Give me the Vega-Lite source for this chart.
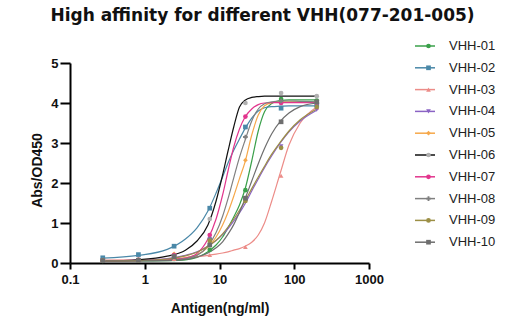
{
 "$schema": "https://vega.github.io/schema/vega-lite/v6.json",
 "width": 299, "height": 200,
 "autosize": {"type": "none"},
 "padding": {"left": 70, "top": 63, "right": 157, "bottom": 62},
 "background": "white",
 "config": {"view": {"stroke": null}},
 "title": {"text": "High affinity for different VHH(077-201-005)", "font": "DejaVu Sans", "fontSize": 17, "fontWeight": "bold", "color": "#111111", "anchor": "middle", "dx": 43, "offset": 10},
 "datasets": {
  "curve": [
   {"series":"VHH-01","conc":0.274,"od":0.05},{"series":"VHH-01","conc":0.823,"od":0.05},{"series":"VHH-01","conc":2,"od":0.06},{"series":"VHH-01","conc":3.5,"od":0.08},{"series":"VHH-01","conc":5,"od":0.14},{"series":"VHH-01","conc":7,"od":0.28},{"series":"VHH-01","conc":9,"od":0.45},{"series":"VHH-01","conc":11,"od":0.65},{"series":"VHH-01","conc":13,"od":0.88},{"series":"VHH-01","conc":15.5,"od":1.15},{"series":"VHH-01","conc":18.5,"od":1.45},{"series":"VHH-01","conc":22,"od":1.85},{"series":"VHH-01","conc":27,"od":2.55},{"series":"VHH-01","conc":33,"od":3.3},{"series":"VHH-01","conc":40,"od":3.78},{"series":"VHH-01","conc":50,"od":3.99},{"series":"VHH-01","conc":65,"od":4.06},{"series":"VHH-01","conc":85,"od":4.08},{"series":"VHH-01","conc":120,"od":4.08},{"series":"VHH-01","conc":200,"od":4.08},
   {"series":"VHH-02","conc":0.274,"od":0.12},{"series":"VHH-02","conc":0.823,"od":0.19},{"series":"VHH-02","conc":2,"od":0.34},{"series":"VHH-02","conc":3.5,"od":0.6},{"series":"VHH-02","conc":5,"od":0.88},{"series":"VHH-02","conc":7,"od":1.3},{"series":"VHH-02","conc":9,"od":1.75},{"series":"VHH-02","conc":11,"od":2.15},{"series":"VHH-02","conc":13,"od":2.5},{"series":"VHH-02","conc":15.5,"od":2.82},{"series":"VHH-02","conc":18.5,"od":3.1},{"series":"VHH-02","conc":22,"od":3.36},{"series":"VHH-02","conc":27,"od":3.62},{"series":"VHH-02","conc":33,"od":3.8},{"series":"VHH-02","conc":40,"od":3.88},{"series":"VHH-02","conc":50,"od":3.91},{"series":"VHH-02","conc":65,"od":3.92},{"series":"VHH-02","conc":85,"od":3.93},{"series":"VHH-02","conc":120,"od":3.93},{"series":"VHH-02","conc":200,"od":3.93},
   {"series":"VHH-03","conc":0.274,"od":0.07},{"series":"VHH-03","conc":0.823,"od":0.08},{"series":"VHH-03","conc":2,"od":0.1},{"series":"VHH-03","conc":3.5,"od":0.13},{"series":"VHH-03","conc":5,"od":0.16},{"series":"VHH-03","conc":7,"od":0.19},{"series":"VHH-03","conc":9,"od":0.22},{"series":"VHH-03","conc":11,"od":0.25},{"series":"VHH-03","conc":13,"od":0.28},{"series":"VHH-03","conc":15.5,"od":0.32},{"series":"VHH-03","conc":18.5,"od":0.36},{"series":"VHH-03","conc":22,"od":0.42},{"series":"VHH-03","conc":27,"od":0.52},{"series":"VHH-03","conc":33,"od":0.7},{"series":"VHH-03","conc":40,"od":1.0},{"series":"VHH-03","conc":50,"od":1.55},{"series":"VHH-03","conc":65,"od":2.25},{"series":"VHH-03","conc":85,"od":2.95},{"series":"VHH-03","conc":120,"od":3.5},{"series":"VHH-03","conc":200,"od":3.9},
   {"series":"VHH-04","conc":0.274,"od":0.05},{"series":"VHH-04","conc":0.823,"od":0.07},{"series":"VHH-04","conc":2,"od":0.11},{"series":"VHH-04","conc":3.5,"od":0.19},{"series":"VHH-04","conc":5,"od":0.28},{"series":"VHH-04","conc":7,"od":0.42},{"series":"VHH-04","conc":9,"od":0.56},{"series":"VHH-04","conc":11,"od":0.71},{"series":"VHH-04","conc":13,"od":0.86},{"series":"VHH-04","conc":15.5,"od":1.05},{"series":"VHH-04","conc":18.5,"od":1.25},{"series":"VHH-04","conc":22,"od":1.48},{"series":"VHH-04","conc":27,"od":1.8},{"series":"VHH-04","conc":33,"od":2.1},{"series":"VHH-04","conc":40,"od":2.38},{"series":"VHH-04","conc":50,"od":2.68},{"series":"VHH-04","conc":65,"od":3.0},{"series":"VHH-04","conc":85,"od":3.28},{"series":"VHH-04","conc":120,"od":3.55},{"series":"VHH-04","conc":200,"od":3.82},
   {"series":"VHH-05","conc":0.274,"od":0.05},{"series":"VHH-05","conc":0.823,"od":0.06},{"series":"VHH-05","conc":2,"od":0.08},{"series":"VHH-05","conc":3.5,"od":0.13},{"series":"VHH-05","conc":5,"od":0.21},{"series":"VHH-05","conc":7,"od":0.39},{"series":"VHH-05","conc":9,"od":0.65},{"series":"VHH-05","conc":11,"od":0.95},{"series":"VHH-05","conc":13,"od":1.27},{"series":"VHH-05","conc":15.5,"od":1.67},{"series":"VHH-05","conc":18.5,"od":2.11},{"series":"VHH-05","conc":22,"od":2.53},{"series":"VHH-05","conc":27,"od":3.2},{"series":"VHH-05","conc":33,"od":3.7},{"series":"VHH-05","conc":40,"od":3.93},{"series":"VHH-05","conc":50,"od":4.01},{"series":"VHH-05","conc":65,"od":4.03},{"series":"VHH-05","conc":85,"od":4.03},{"series":"VHH-05","conc":120,"od":4.03},{"series":"VHH-05","conc":200,"od":4.03},
   {"series":"VHH-06","conc":0.274,"od":0.05},{"series":"VHH-06","conc":0.823,"od":0.08},{"series":"VHH-06","conc":2,"od":0.17},{"series":"VHH-06","conc":3.5,"od":0.32},{"series":"VHH-06","conc":5,"od":0.55},{"series":"VHH-06","conc":7,"od":0.95},{"series":"VHH-06","conc":9,"od":1.55},{"series":"VHH-06","conc":11,"od":2.2},{"series":"VHH-06","conc":13,"od":2.8},{"series":"VHH-06","conc":15.5,"od":3.4},{"series":"VHH-06","conc":18.5,"od":3.9},{"series":"VHH-06","conc":22,"od":4.07},{"series":"VHH-06","conc":27,"od":4.14},{"series":"VHH-06","conc":33,"od":4.16},{"series":"VHH-06","conc":40,"od":4.17},{"series":"VHH-06","conc":50,"od":4.17},{"series":"VHH-06","conc":65,"od":4.17},{"series":"VHH-06","conc":85,"od":4.17},{"series":"VHH-06","conc":120,"od":4.17},{"series":"VHH-06","conc":200,"od":4.17},
   {"series":"VHH-07","conc":0.274,"od":0.05},{"series":"VHH-07","conc":0.823,"od":0.06},{"series":"VHH-07","conc":2,"od":0.08},{"series":"VHH-07","conc":3.5,"od":0.12},{"series":"VHH-07","conc":5,"od":0.24},{"series":"VHH-07","conc":7,"od":0.6},{"series":"VHH-07","conc":9,"od":1.1},{"series":"VHH-07","conc":11,"od":1.7},{"series":"VHH-07","conc":13,"od":2.3},{"series":"VHH-07","conc":15.5,"od":2.9},{"series":"VHH-07","conc":18.5,"od":3.35},{"series":"VHH-07","conc":22,"od":3.65},{"series":"VHH-07","conc":27,"od":3.85},{"series":"VHH-07","conc":33,"od":3.96},{"series":"VHH-07","conc":40,"od":4.0},{"series":"VHH-07","conc":50,"od":4.01},{"series":"VHH-07","conc":65,"od":4.01},{"series":"VHH-07","conc":85,"od":4.01},{"series":"VHH-07","conc":120,"od":4.01},{"series":"VHH-07","conc":200,"od":4.01},
   {"series":"VHH-08","conc":0.274,"od":0.05},{"series":"VHH-08","conc":0.823,"od":0.06},{"series":"VHH-08","conc":2,"od":0.07},{"series":"VHH-08","conc":3.5,"od":0.11},{"series":"VHH-08","conc":5,"od":0.19},{"series":"VHH-08","conc":7,"od":0.42},{"series":"VHH-08","conc":9,"od":0.76},{"series":"VHH-08","conc":11,"od":1.17},{"series":"VHH-08","conc":13,"od":1.61},{"series":"VHH-08","conc":15.5,"od":2.13},{"series":"VHH-08","conc":18.5,"od":2.64},{"series":"VHH-08","conc":22,"od":3.07},{"series":"VHH-08","conc":27,"od":3.55},{"series":"VHH-08","conc":33,"od":3.85},{"series":"VHH-08","conc":40,"od":3.98},{"series":"VHH-08","conc":50,"od":4.03},{"series":"VHH-08","conc":65,"od":4.05},{"series":"VHH-08","conc":85,"od":4.05},{"series":"VHH-08","conc":120,"od":4.04},{"series":"VHH-08","conc":200,"od":4.03},
   {"series":"VHH-09","conc":0.274,"od":0.05},{"series":"VHH-09","conc":0.823,"od":0.06},{"series":"VHH-09","conc":2,"od":0.1},{"series":"VHH-09","conc":3.5,"od":0.18},{"series":"VHH-09","conc":5,"od":0.27},{"series":"VHH-09","conc":7,"od":0.42},{"series":"VHH-09","conc":9,"od":0.57},{"series":"VHH-09","conc":11,"od":0.73},{"series":"VHH-09","conc":13,"od":0.9},{"series":"VHH-09","conc":15.5,"od":1.1},{"series":"VHH-09","conc":18.5,"od":1.32},{"series":"VHH-09","conc":22,"od":1.55},{"series":"VHH-09","conc":27,"od":1.86},{"series":"VHH-09","conc":33,"od":2.15},{"series":"VHH-09","conc":40,"od":2.42},{"series":"VHH-09","conc":50,"od":2.72},{"series":"VHH-09","conc":65,"od":3.02},{"series":"VHH-09","conc":85,"od":3.3},{"series":"VHH-09","conc":120,"od":3.58},{"series":"VHH-09","conc":200,"od":3.85},
   {"series":"VHH-10","conc":0.274,"od":0.05},{"series":"VHH-10","conc":0.823,"od":0.05},{"series":"VHH-10","conc":2,"od":0.06},{"series":"VHH-10","conc":3.5,"od":0.09},{"series":"VHH-10","conc":5,"od":0.15},{"series":"VHH-10","conc":7,"od":0.25},{"series":"VHH-10","conc":9,"od":0.38},{"series":"VHH-10","conc":11,"od":0.53},{"series":"VHH-10","conc":13,"od":0.72},{"series":"VHH-10","conc":15.5,"od":0.96},{"series":"VHH-10","conc":18.5,"od":1.27},{"series":"VHH-10","conc":22,"od":1.61},{"series":"VHH-10","conc":27,"od":2.05},{"series":"VHH-10","conc":33,"od":2.48},{"series":"VHH-10","conc":40,"od":2.86},{"series":"VHH-10","conc":50,"od":3.23},{"series":"VHH-10","conc":65,"od":3.54},{"series":"VHH-10","conc":85,"od":3.75},{"series":"VHH-10","conc":120,"od":3.91},{"series":"VHH-10","conc":200,"od":4.0}
  ],
  "pts": [
   {"antibody":"VHH-01","conc":0.2743,"od":0.05},{"antibody":"VHH-01","conc":0.823,"od":0.07},{"antibody":"VHH-01","conc":2.469,"od":0.1},{"antibody":"VHH-01","conc":7.407,"od":0.33},{"antibody":"VHH-01","conc":22.22,"od":1.82},{"antibody":"VHH-01","conc":66.67,"od":4.1},{"antibody":"VHH-01","conc":200,"od":4.06},
   {"antibody":"VHH-02","conc":0.2743,"od":0.13},{"antibody":"VHH-02","conc":0.823,"od":0.21},{"antibody":"VHH-02","conc":2.469,"od":0.42},{"antibody":"VHH-02","conc":7.407,"od":1.37},{"antibody":"VHH-02","conc":22.22,"od":3.4},{"antibody":"VHH-02","conc":66.67,"od":3.87},{"antibody":"VHH-02","conc":200,"od":3.95},
   {"antibody":"VHH-03","conc":0.2743,"od":0.07},{"antibody":"VHH-03","conc":0.823,"od":0.08},{"antibody":"VHH-03","conc":2.469,"od":0.1},{"antibody":"VHH-03","conc":7.407,"od":0.2},{"antibody":"VHH-03","conc":22.22,"od":0.4},{"antibody":"VHH-03","conc":66.67,"od":2.18},{"antibody":"VHH-03","conc":200,"od":3.88},
   {"antibody":"VHH-04","conc":0.2743,"od":0.06},{"antibody":"VHH-04","conc":0.823,"od":0.07},{"antibody":"VHH-04","conc":2.469,"od":0.13},{"antibody":"VHH-04","conc":7.407,"od":0.6},{"antibody":"VHH-04","conc":22.22,"od":1.58},{"antibody":"VHH-04","conc":66.67,"od":2.92},{"antibody":"VHH-04","conc":200,"od":3.83},
   {"antibody":"VHH-05","conc":0.2743,"od":0.06},{"antibody":"VHH-05","conc":0.823,"od":0.08},{"antibody":"VHH-05","conc":2.469,"od":0.23},{"antibody":"VHH-05","conc":7.407,"od":0.55},{"antibody":"VHH-05","conc":22.22,"od":2.57},{"antibody":"VHH-05","conc":66.67,"od":4.0},{"antibody":"VHH-05","conc":200,"od":4.03},
   {"antibody":"VHH-06","conc":0.2743,"od":0.07},{"antibody":"VHH-06","conc":0.823,"od":0.08},{"antibody":"VHH-06","conc":2.469,"od":0.18},{"antibody":"VHH-06","conc":7.407,"od":1.1},{"antibody":"VHH-06","conc":22.22,"od":4.0},{"antibody":"VHH-06","conc":66.67,"od":4.25},{"antibody":"VHH-06","conc":200,"od":4.17},
   {"antibody":"VHH-07","conc":0.2743,"od":0.06},{"antibody":"VHH-07","conc":0.823,"od":0.08},{"antibody":"VHH-07","conc":2.469,"od":0.2},{"antibody":"VHH-07","conc":7.407,"od":0.7},{"antibody":"VHH-07","conc":22.22,"od":3.66},{"antibody":"VHH-07","conc":66.67,"od":4.0},{"antibody":"VHH-07","conc":200,"od":4.0},
   {"antibody":"VHH-08","conc":0.2743,"od":0.06},{"antibody":"VHH-08","conc":0.823,"od":0.07},{"antibody":"VHH-08","conc":2.469,"od":0.18},{"antibody":"VHH-08","conc":7.407,"od":0.6},{"antibody":"VHH-08","conc":22.22,"od":3.15},{"antibody":"VHH-08","conc":66.67,"od":4.05},{"antibody":"VHH-08","conc":200,"od":4.0},
   {"antibody":"VHH-09","conc":0.2743,"od":0.06},{"antibody":"VHH-09","conc":0.823,"od":0.07},{"antibody":"VHH-09","conc":2.469,"od":0.15},{"antibody":"VHH-09","conc":7.407,"od":0.55},{"antibody":"VHH-09","conc":22.22,"od":1.55},{"antibody":"VHH-09","conc":66.67,"od":2.88},{"antibody":"VHH-09","conc":200,"od":3.9},
   {"antibody":"VHH-10","conc":0.2743,"od":0.06},{"antibody":"VHH-10","conc":0.823,"od":0.07},{"antibody":"VHH-10","conc":2.469,"od":0.16},{"antibody":"VHH-10","conc":7.407,"od":0.45},{"antibody":"VHH-10","conc":22.22,"od":1.62},{"antibody":"VHH-10","conc":66.67,"od":3.53},{"antibody":"VHH-10","conc":200,"od":4.03}
  ]
 },
 "layer": [
  {
   "data": {"name": "curve"},
   "mark": {"type": "line", "interpolate": "monotone", "strokeWidth": 1.2},
   "encoding": {
    "x": {"field": "conc", "type": "quantitative", "scale": {"type": "log", "domain": [0.1, 1000]},
     "axis": {"values": [0.1, 1, 10, 100, 1000], "format": "~g", "title": "Antigen(ng/ml)", "grid": false, "labelOverlap": false, "domainColor": "#000000", "domainWidth": 2, "tickColor": "#000000", "tickWidth": 2, "tickSize": 6, "labelFont": "Liberation Sans", "labelFontSize": 13, "labelFontWeight": "bold", "labelColor": "#111111", "labelPadding": 4, "labelFlush": false, "titleFont": "Liberation Sans", "titleFontSize": 14, "titleFontWeight": "bold", "titleColor": "#111111", "titlePadding": 15}},
    "y": {"field": "od", "type": "quantitative", "scale": {"domain": [0, 5], "nice": false},
     "axis": {"values": [0, 1, 2, 3, 4, 5], "format": "d", "title": "Abs/OD450", "grid": false, "labelOverlap": false, "domainColor": "#000000", "domainWidth": 2, "tickColor": "#000000", "tickWidth": 2, "tickSize": 10, "labelFont": "Liberation Sans", "labelFontSize": 13, "labelFontWeight": "bold", "labelColor": "#111111", "labelPadding": 2, "titleFont": "Liberation Sans", "titleFontSize": 14, "titleFontWeight": "bold", "titleColor": "#111111", "titlePadding": 6, "titleY": 107}}
    ,
    "stroke": {"field": "series", "type": "nominal",
     "scale": {"domain": ["VHH-01","VHH-02","VHH-03","VHH-04","VHH-05","VHH-06","VHH-07","VHH-08","VHH-09","VHH-10"], "range": ["#3aa04a","#4a88a8","#ec8c88","#8a63c4","#f6a84a","#111111","#e2358d","#808080","#9c8f45","#6e6e6e"]},
     "legend": {"orient": "none", "legendX": 344, "legendY": -28, "title": null, "symbolType": "stroke", "symbolSize": 400, "symbolStrokeWidth": 1.5, "labelFont": "Liberation Sans", "labelFontSize": 13, "labelColor": "#222222", "labelOffset": 13, "rowPadding": 3.8, "padding": 0}}
   }
  },
  {
   "data": {"name": "pts"},
   "mark": {"type": "point", "filled": true, "opacity": 1, "size": 22},
   "encoding": {
    "x": {"field": "conc", "type": "quantitative",
     "axis": {"values": [0.1, 1, 10, 100, 1000], "format": "~g", "title": "Antigen(ng/ml)", "grid": false, "labelOverlap": false, "domainColor": "#000000", "domainWidth": 2, "tickColor": "#000000", "tickWidth": 2, "tickSize": 6, "labelFont": "Liberation Sans", "labelFontSize": 13, "labelFontWeight": "bold", "labelColor": "#111111", "labelPadding": 4, "labelFlush": false, "titleFont": "Liberation Sans", "titleFontSize": 14, "titleFontWeight": "bold", "titleColor": "#111111", "titlePadding": 15}},
    "y": {"field": "od", "type": "quantitative",
     "axis": {"values": [0, 1, 2, 3, 4, 5], "format": "d", "title": "Abs/OD450", "grid": false, "labelOverlap": false, "domainColor": "#000000", "domainWidth": 2, "tickColor": "#000000", "tickWidth": 2, "tickSize": 10, "labelFont": "Liberation Sans", "labelFontSize": 13, "labelFontWeight": "bold", "labelColor": "#111111", "labelPadding": 2, "titleFont": "Liberation Sans", "titleFontSize": 14, "titleFontWeight": "bold", "titleColor": "#111111", "titlePadding": 6, "titleY": 107}},
    "fill": {"field": "antibody", "type": "nominal",
     "scale": {"range": ["#3aa04a","#4a88a8","#ec8c88","#8a63c4","#f6a84a","#b0b0b0","#e2358d","#808080","#9c8f45","#6e6e6e"]},
     "legend": {"orient": "none", "legendX": 352, "legendY": -23.5, "title": null, "symbolSize": 22, "symbolStrokeWidth": 0, "labelFont": "Liberation Sans", "labelFontSize": 13, "labelExpr": "''", "rowPadding": 7.8, "padding": 0}},
    "shape": {"field": "antibody", "type": "nominal",
     "scale": {"range": ["circle","square","triangle-up","triangle-down","diamond","circle","circle","cross","circle","square"]},
     "legend": {"orient": "none", "legendX": 352, "legendY": -23.5, "title": null, "symbolSize": 22, "symbolStrokeWidth": 0, "labelFont": "Liberation Sans", "labelFontSize": 13, "labelExpr": "''", "rowPadding": 7.8, "padding": 0}}
   }
  }
 ]
}
